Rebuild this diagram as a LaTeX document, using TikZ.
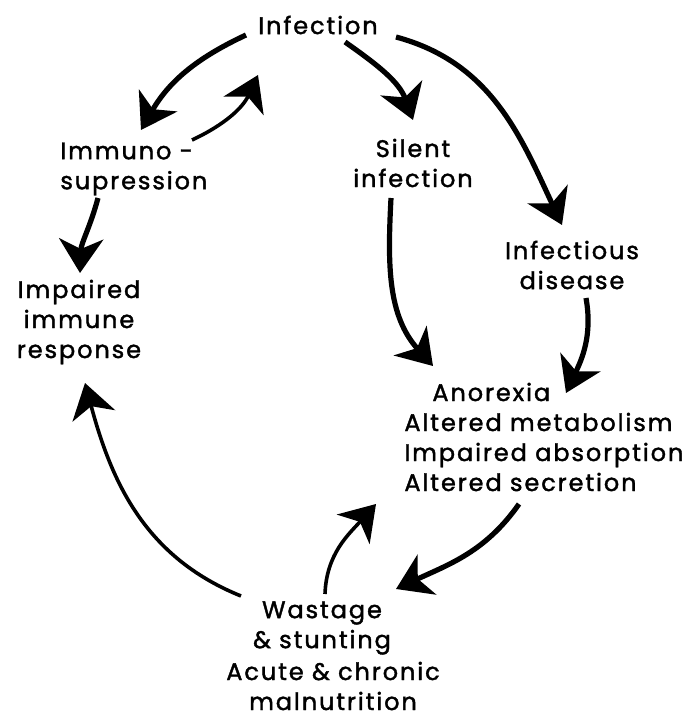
\documentclass[tikz,border=0pt]{standalone}
\usepackage{fontspec}
\setmainfont{Poppins}[LetterSpace=8, FakeBold=1.6]
\usetikzlibrary{arrows.meta, calc}

\begin{document}
\begin{tikzpicture}[
      x=0.5pt, y=0.5pt,
      lbl/.style={inner sep=0pt, align=center, font=\fontsize{12}{15}\selectfont},
      arr/.style={-{Stealth[length=17pt, width=22pt, inset=5pt]}, line width=2.6pt},
      thinarr/.style={arr, line width=1.8pt}
    ]
    \useasboundingbox (0,0) rectangle (697,-722);
    \node[lbl] (inf) at (318,-25) {Infection};
    \node[lbl, align=left, anchor=west] (imm) at (60,-169) {Immuno -\\supression};
    \node[lbl] (sil) at (413,-163) {Silent\\infection};
    \node[lbl] (dis) at (572,-265) {Infectious\\disease};
    \node[lbl] (imp) at (79,-322) {Impaired\\immune\\response};
    \node[lbl, align=left, anchor=west] (ano) at (404,-437) {\hspace*{14pt}Anorexia\\Altered metabolism\\Impaired absorption\\Altered secretion};
    \node[lbl] (was) at (322,-628) {Wastage\\\& stunting};
    \node[lbl] (mal) at (333,-686) {Acute \& chronic\\malnutrition};
    % infection and immunosuppression
    \draw[arr] ($(inf)+(-72,-10)$) to[out=205, in=60] ($(imm.west)+(81,39)$);
    \draw[thinarr] ($(imm.west)+(132,29)$) to[out=25, in=245] ($(inf)+(-60,-50)$);
    \draw[arr] ($(imm.west)+(38,-29)$) to[out=-105, in=88] ($(imp)+(1,49)$);
    % the two routes to the gut
    \draw[arr] ($(inf)+(27,-17)$) to[out=-35, in=110] ($(sil)+(0,43)$);
    \draw[arr] ($(inf)+(78,-12)$) to[out=-15, in=115] ($(dis)+(-10,40)$);
    \draw[arr] ($(sil)+(-22,-35)$) to[out=-93, in=132] ($(ano.west)+(29,71)$);
    \draw[arr] ($(dis)+(14,-33)$) to[out=-80, in=65] ($(ano.west)+(162,44)$);
    % back round the cycle
    \draw[arr] ($(ano.west)+(115,-67)$) to[out=-125, in=25] ($(was)+(74,39)$);
    \draw[thinarr] ($(was)+(3,34)$) to[out=88, in=228] ($(ano.west)+(-28,-67)$);
    \draw[thinarr] ($(was)+(-81,32)$) to[out=158, in=-75] ($(imp)+(6,-61)$);
  \end{tikzpicture}
\end{document}
